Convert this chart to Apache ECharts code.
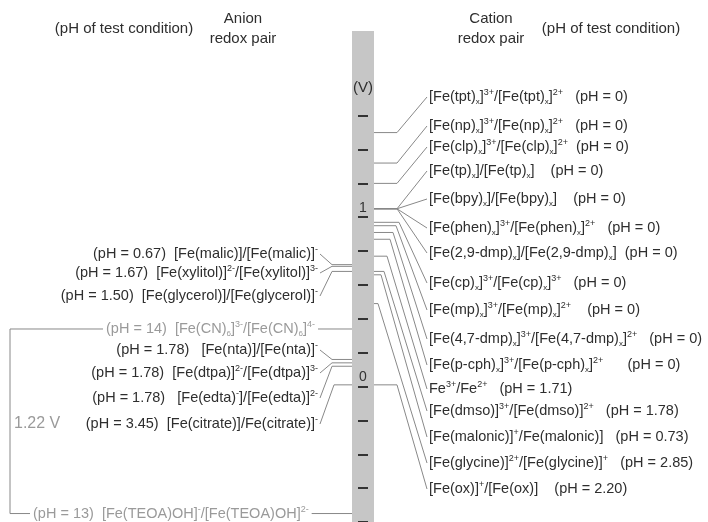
<!DOCTYPE html>
<html>
<head>
<meta charset="utf-8">
<script src="https://cdn.jsdelivr.net/npm/echarts@6/dist/echarts.min.js"></script>
<style>
html, body { margin: 0; padding: 0; background: #fff; }
#main { width: 708px; height: 522px; }
</style>
</head>
<body>
<div id="main"></div>
<script>
// ---- data ----
// anion redox pairs (left side), redox potential in V, pH of test condition
var anionPairs = [
	'[Fe(malic)]/[Fe(malic)]{p|-}',
	'[Fe(xylitol)]{p|2-}/[Fe(xylitol)]{p|3-}',
	'[Fe(glycerol)]/[Fe(glycerol)]{p|-}',
	'[Fe(CN){b|6}]{p|3-}/[Fe(CN){b|6}]{p|4-}',
	'[Fe(nta)]/[Fe(nta)]{p|-}',
	'[Fe(dtpa)]{p|2-}/[Fe(dtpa)]{p|3-}',
	'[Fe(edta){p|-}]/[Fe(edta)]{p|2-}',
	'[Fe(citrate)]/Fe(citrate)]{p|-}',
	'[Fe(TEOA)OH]{p|-}/[Fe(TEOA)OH]{p|2-}'
];
var anionPH = ['0.67', '1.67', '1.50', '14', '1.78', '1.78', '1.78', '3.45', '13'];
var anionE = [0.72, 0.71, 0.68, 0.34, 0.16, 0.14, 0.12, 0.01, -0.75];

// cation redox pairs (right side)
var cationPairs = [
	'[Fe(tpt){b|x}]{p|3+}/[Fe(tpt){b|x}]{p|2+}',
	'[Fe(np){b|x}]{p|3+}/[Fe(np){b|x}]{p|2+}',
	'[Fe(clp){b|x}]{p|3+}/[Fe(clp){b|x}]{p|2+}',
	'[Fe(tp){b|x}]/[Fe(tp){b|x}]',
	'[Fe(bpy){b|x}]/[Fe(bpy){b|x}]',
	'[Fe(phen){b|x}]{p|3+}/[Fe(phen){b|x}]{p|2+}',
	'[Fe(2,9-dmp){b|x}]/[Fe(2,9-dmp){b|x}]',
	'[Fe(cp){b|x}]{p|3+}/[Fe(cp){b|x}]{p|3+}',
	'[Fe(mp){b|x}]{p|3+}/[Fe(mp){b|x}]{p|2+}',
	'[Fe(4,7-dmp){b|x}]{p|3+}/[Fe(4,7-dmp){b|x}]{p|2+}',
	'[Fe(p-cph){b|x}]{p|3+}/[Fe(p-cph){b|x}]{p|2+}',
	'Fe{p|3+}/Fe{p|2+}',
	'[Fe(dmso)]{p|3+}/[Fe(dmso)]{p|2+}',
	'[Fe(malonic)]{p|+}/Fe(malonic)]',
	'[Fe(glycine)]{p|2+}/[Fe(glycine)]{p|+}',
	'[Fe(ox)]{p|+}/[Fe(ox)]'
];
var cationPH = ['0', '0', '0', '0', '0', '0', '0', '0', '0', '0', '0', '1.71', '1.78', '0.73', '2.85', '2.20'];
var cationE = [1.50, 1.32, 1.20, 1.05, 1.05, 1.05, 1.05, 0.97, 0.95, 0.91, 0.87, 0.77, 0.68, 0.66, 0.49, 0.01];

var tickValues = [1.6, 1.4, 1.2, 1.0, 0.8, 0.6, 0.4, 0.2, 0, -0.2, -0.4, -0.6, -0.8];
var labelValues = [1, 0];

// ---- layout ----
var anionRowY = [254, 273, 296, null, 350, 373, 398, 424, null]; // null: level with its potential
var anionTextRight = 318;
var anionBendX = [332, 332, 332, 0, 332, 332, 332, 334, 0];
var anionGap = [2, 2, 2, 2, 3, 2, 3, 2, 2];
var mutedRows = [3, 8];
var bracketX = 10;
var teoaTextX = 30;

var cationRowY = [97, 126, 147, 171, 199, 228, 253, 283, 310, 339, 365, 389, 411, 437, 463, 489];
var cationTextX = 429;
var cationBendX = [397, 397, 397, 397, 397, 397, 397, 399, 396, 393, 390, 387, 384, 381, 378, 397];
var cationGap = [3, 3, 2, 4, 4, 3, 2, 3, 4, 3, 6, 3, 3, 3, 3, 4];

var fontFamily = '"Liberation Sans", Arial, sans-serif';
var labelSize = 14.5;
var textColor = '#2e2e2e';
var mutedColor = '#9a9a9a';
var lineColor = '#888';
var rich = {
	p: { fontSize: 9, fontFamily: fontFamily, verticalAlign: 'top', lineHeight: 9 },
	b: { fontSize: 8, fontFamily: fontFamily, verticalAlign: 'bottom', lineHeight: 8 }
};

function spaces(n) {
	return new Array(n + 1).join(' ');
}

function textEl(x, y, text, align, color, extra) {
	var style = {
		text: text,
		fill: color,
		fontSize: labelSize,
		fontFamily: fontFamily,
		lineHeight: 17,
		rich: rich,
		align: align,
		verticalAlign: 'middle',
		textAlign: align,
		textVerticalAlign: 'middle'
	};
	for (var k in extra) style[k] = extra[k];
	return { type: 'text', x: x, y: y, style: style };
}

function renderAnion(params, api) {
	var i = params.dataIndex;
	var barLeft = params.coordSys.x;
	var y = api.coord([0, api.value(1)])[1];
	var muted = mutedRows.indexOf(i) >= 0;
	var color = muted ? mutedColor : textColor;
	var label = '(pH = ' + anionPH[i] + ')' + spaces(anionGap[i]) + anionPairs[i];
	var rowY = anionRowY[i] == null ? y : anionRowY[i];
	var children = [];
	if (muted) {
		// line runs from the bracket to the bar, text sits on a white box
		children.push({ type: 'line', shape: { x1: bracketX, y1: y, x2: barLeft, y2: y },
			style: { stroke: lineColor, lineWidth: 1 } });
		var tx = i === 8 ? teoaTextX : anionTextRight;
		children.push(textEl(tx, rowY, label, i === 8 ? 'left' : 'right', color,
			{ backgroundColor: '#fff', padding: [0, 3, 0, 3] }));
	} else {
		children.push({ type: 'polyline',
			shape: { points: [[anionTextRight + 2, rowY], [anionBendX[i], y], [barLeft, y]] },
			style: { stroke: lineColor, lineWidth: 1, fill: null } });
		children.push(textEl(anionTextRight, rowY, label, 'right', color));
	}
	return { type: 'group', children: children };
}

function renderCation(params, api) {
	var i = params.dataIndex;
	var barRight = params.coordSys.x + params.coordSys.width;
	var y = api.coord([0, api.value(1)])[1];
	var rowY = cationRowY[i];
	var label = cationPairs[i] + spaces(cationGap[i]) + '(pH = ' + cationPH[i] + ')';
	return {
		type: 'group',
		children: [
			{ type: 'polyline',
				shape: { points: [[barRight, y], [cationBendX[i], y], [cationTextX - 2, rowY]] },
				style: { stroke: lineColor, lineWidth: 1, fill: null } },
			textEl(cationTextX, rowY, label, 'left', textColor)
		]
	};
}

// bracket between the two muted pairs (ferricyanide / TEOA)
function renderBracket(params, api) {
	var yTop = api.coord([0, api.value(1)])[1];
	var yBot = api.coord([0, api.value(2)])[1];
	return { type: 'line', shape: { x1: bracketX, y1: yTop, x2: bracketX, y2: yBot },
		style: { stroke: lineColor, lineWidth: 1 } };
}

function headText(x, y, text, align, size, color) {
	return { type: 'text', x: x, y: y, style: {
		text: text, fontSize: size, lineHeight: 20, fontFamily: fontFamily, fill: color,
		align: align, verticalAlign: 'middle', textAlign: align, textVerticalAlign: 'middle'
	} };
}

var myChart = echarts.init(document.getElementById('main'));
myChart.setOption({
	animation: false,
	grid: {
		left: 352,
		width: 22,
		top: 31,
		bottom: 0,
		show: true,
		backgroundColor: '#c6c6c6',
		borderWidth: 0
	},
	xAxis: { type: 'value', min: 0, max: 1, show: false },
	yAxis: {
		type: 'value',
		min: -0.8,
		max: 2.1,
		interval: 0.2,
		offset: -6,
		axisLine: { show: false },
		splitLine: { show: false },
		axisTick: {
			show: true,
			inside: true,
			length: 10,
			customValues: tickValues,
			lineStyle: { color: '#333', width: 2 }
		},
		axisLabel: {
			show: true,
			inside: true,
			customValues: labelValues,
			margin: 5,
			align: 'center',
			verticalAlign: 'bottom',
			lineHeight: 14,
			padding: [0, 0, 2, 0],
			fontSize: 14,
			fontFamily: fontFamily,
			color: '#333'
		}
	},
	graphic: [
		headText(124, 29, '(pH of test condition)', 'center', 15, textColor),
		headText(243, 29, 'Anion\nredox pair', 'center', 15, textColor),
		headText(491, 29, 'Cation\nredox pair', 'center', 15, textColor),
		headText(611, 29, '(pH of test condition)', 'center', 15, textColor),
		headText(363, 88, '(V)', 'center', 15, textColor),
		headText(14, 424, '1.22 V', 'left', 16, mutedColor)
	],
	series: [
		{
			type: 'custom',
			name: 'bracket',
			silent: true,
			renderItem: renderBracket,
			data: [[0, anionE[3], anionE[8]]]
		},
		{
			type: 'custom',
			name: 'anion',
			silent: true,
			renderItem: renderAnion,
			data: anionE.map(function(e) { return [0, e]; })
		},
		{
			type: 'custom',
			name: 'cation',
			silent: true,
			renderItem: renderCation,
			data: cationE.map(function(e) { return [0, e]; })
		}
	]
});
</script>
</body>
</html>
